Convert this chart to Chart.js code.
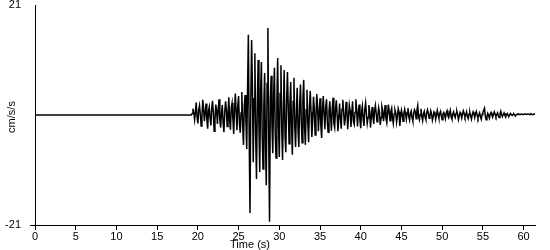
<!DOCTYPE html>
<html>
<head>
<meta charset="utf-8">
<script src="https://cdn.jsdelivr.net/npm/chart.js@4"></script>
<style>
    body { margin: 0; background: #fff; }
    #wrap { width: 550px; height: 250px; }
</style>
</head>
<body>
<div id="wrap"><canvas id="quakeChart" width="550" height="250"></canvas></div>
<script>
// recording start, first sample time and sample interval (s)
const startTime = 0;
const firstSample = 19.2;
const sampleStep = 0.1;

// acceleration (cm/s/s), one value per sample, 2 s per row
const accel = [
    0, 0.3,
    1.2, 0.4, -0.9, 0.6, 2.4, -0.3, -1.6, 0.9, 1.8, 0.2, -2.1, -0.4, 2.9, 1.1, -1.2, 0.5, 2.2, -0.8, -2.6, 0.7,
    1.5, -0.6, -2.0, 1.3, 2.7, 0.4, -3.1, -0.9, 2.0, 0.8, -1.7, 1.2, 3.0, -1.0, -2.4, 0.3, 1.9, -1.4, -3.3, 0.5,
    2.6, 1.0, -2.2, 0.2, 3.4, -1.1, -2.8, 1.4, 2.3, -0.7, -3.6, 0.9, 4.1, 0.6, -2.9, 1.8, 3.6, -1.5, -3.4, 0.4,
    4.4, -2.0, -5.7, 1.6, 3.8, -1.2, -6.5, 4.8, 15.3, -3.5, -18.7, 2.5, 14.3, 5.2, -9.0, 3.1, 11.8, -4.0, -12.2, 2.2,
    10.5, -2.6, -10.9, 4.5, 10.1, -3.8, -10.3, 1.7, 8.0, -5.1, -13.4, 6.0, 16.6, -4.2, -20.4, 2.9, 7.5, -2.1, -7.3, 3.6,
    9.0, -3.4, -8.2, 2.4, 10.9, -1.9, -8.0, 4.1, 9.5, -2.7, -8.6, 1.3, 8.6, -3.9, -7.1, 2.8, 8.2, 1.5, -5.5, 2.0,
    6.3, -1.8, -7.6, 2.6, 7.1, -2.4, -6.1, 0.8, 5.2, -3.0, -6.1, 1.9, 5.8, -1.1, -5.3, 3.3, 6.7, -2.2, -5.7, 1.0,
    4.8, -1.6, -5.2, 1.4, 4.6, 0.5, -4.2, -1.0, 3.5, 1.2, -3.8, -0.6, 4.0, 1.7, -3.1, 0.3, 3.2, -2.0, -4.4, 0.9,
    3.6, 0.2, -2.7, 1.5, 3.0, -1.3, -3.3, 0.7, 2.6, -0.4, -3.0, 1.2, 3.3, -1.6, -2.4, 0.9, 2.8, 0.1, -3.1, -0.8,
    2.2, -0.5, -2.6, 1.1, 2.9, 0.6, -2.0, -0.7, 2.5, 1.0, -2.7, -0.2, 1.9, 0.8, -2.3, 0.4, 2.6, -1.2, -1.8, 0.5,
    3.0, 0.9, -2.2, 0.3, 2.0, -1.0, -2.5, 0.6, 1.7, -0.8, -2.1, 1.1, 2.3, 0.2, -1.6, -0.5, 1.9, 0.7, -2.4, -0.3,
    1.5, -0.4, -1.7, 0.8, 1.8, 0.3, -1.3, -0.2, 1.4, 0.6, -1.9, -0.5, 1.6, 0.9, -1.2, 0.2, 1.9, -0.7, -1.5, 0.4,
    2.0, 0.5, -1.1, 0.7, 1.3, -0.6, -1.6, 0.2, 1.0, 0.4, -1.4, -0.3, 1.2, 0.6, -2.1, -0.4, 0.9, 0.1, -1.2, 0.3,
    1.1, 0.2, -0.8, 0.5, 1.3, -0.3, -1.0, 0.4, 0.8, -0.5, -1.2, 0.3, 1.0, 0.6, -0.7, 0.9, 1.8, -0.2, -0.9, 0.1,
    1.2, -0.3, -1.1, 0.2, 0.7, -0.4, -0.9, 0.5, 1.0, 0.3, -0.6, -0.1, 0.8, 0.2, -1.0, -0.3, 0.6, 0.4, -0.8, 0.0,
    0.9, 0.1, -0.6, 0.3, 0.7, -0.2, -0.9, 0.2, 0.5, 0.0, -0.7, 0.4, 0.8, -0.1, -0.5, 0.3, 0.9, -0.4, -0.8, 0.2,
    0.6, -0.1, -0.5, 0.3, 0.7, 0.1, -0.9, -0.2, 0.5, 0.2, -0.6, 0.1, 0.8, 0.3, -0.4, 0.0, 0.6, -0.3, -0.7, 0.2,
    0.5, -0.2, -0.8, 0.1, 0.6, 0.2, -0.5, 0.3, 0.7, -0.1, -0.6, 0.0, 0.4, -0.3, -0.8, 0.1, 0.5, 0.9, 1.3, -0.2,
    -0.9, -0.3, 0.3, -0.1, -0.6, 0.2, 0.5, 0.0, -0.4, 0.1, 0.6, 0.2, -0.3, 0.1, 0.4, -0.2, -0.5, 0.2, 0.7, 0.1,
    -0.3, 0.1, 0.4, 0.0, -0.4, 0.1, 0.3, -0.1, -0.2, 0.1, 0.3, 0.0, -0.1, 0.1, 0.2, 0.0, -0.2, 0.1, 0.1, 0.2,
    0.2, 0.1, 0.1, 0.2, 0.2, 0.1, 0.1, 0.2, 0.2, 0.1, 0.1, 0.2, 0.2, 0.1, 0.1, 0.2, 0.1, 0.1, 0.1, 0.2, 0.1
];

const xTicks = [0, 5, 10, 15, 20, 25, 30, 35, 40, 45, 50, 55, 60];
const yTicks = [-21, 21];
const xMax = 61.4;
const xTitle = 'Time (s)';
const yTitle = 'cm/s/s';

const points = [{ x: startTime, y: 0 }];
for (let i = 0; i < accel.length; i++) {
    points.push({ x: firstSample + i * sampleStep, y: accel[i] });
}

const font = { family: "'Liberation Sans', Arial, sans-serif", size: 11 };

// axis titles sit where the original puts them, not where Chart.js would
const axisTitles = {
    id: 'axisTitles',
    afterDraw(chart) {
        const c = chart.ctx;
        c.save();
        c.fillStyle = '#000';
        c.font = '11px ' + font.family;
        c.textAlign = 'center';
        c.textBaseline = 'middle';
        c.fillText(xTitle, 250, 245);
        c.translate(12, 117);
        c.rotate(-Math.PI / 2);
        c.fillText(yTitle, 0, 0);
        c.restore();
    },
};

new Chart(document.getElementById('quakeChart'), {
    type: 'line',
    data: {
        datasets: [
            {
                data: points,
                borderColor: '#000',
                borderWidth: 1.5,
                pointRadius: 0,
                tension: 0,
                fill: false,
            },
        ],
    },
    options: {
        responsive: false,
        animation: false,
        layout: { padding: { top: 5, right: 15, left: 0, bottom: 0 } },
        plugins: { legend: { display: false }, tooltip: { enabled: false } },
        scales: {
            x: {
                type: 'linear',
                min: 0,
                max: xMax,
                afterBuildTicks: (scale) => {
                    scale.ticks = xTicks.map((v) => ({ value: v }));
                },
                afterFit: (scale) => {
                    scale.height = 25;
                    scale.paddingLeft = 0;
                    scale.paddingRight = 0;
                },
                grid: { drawOnChartArea: false, tickLength: 5, tickColor: '#000' },
                border: { color: '#000', width: 1 },
                ticks: { color: '#000', font: font, padding: 0, maxRotation: 0, autoSkip: false },
            },
            y: {
                min: -21,
                max: 21,
                afterBuildTicks: (scale) => {
                    scale.ticks = yTicks.map((v) => ({ value: v }));
                },
                afterFit: (scale) => {
                    scale.width = 35;
                    scale.paddingTop = 0;
                    scale.paddingBottom = 0;
                },
                grid: {
                    drawOnChartArea: false,
                    tickLength: 5,
                    tickColor: (ctx) => (ctx.tick && ctx.tick.value === -21 ? '#000' : 'rgba(0,0,0,0)'),
                },
                border: { color: '#000', width: 1 },
                ticks: { color: '#000', font: font, padding: 9 },
            },
        },
    },
    plugins: [axisTitles],
});
</script>
</body>
</html>
